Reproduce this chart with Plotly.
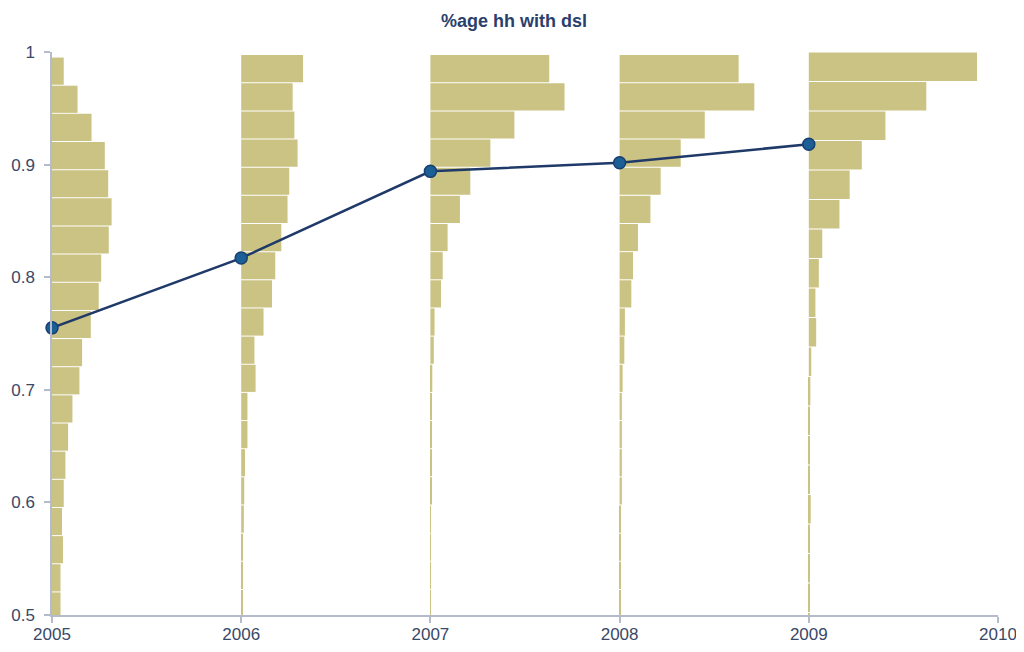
import plotly.graph_objects as go

# ---- data ----
years = [2005, 2006, 2007, 2008, 2009]
mean_share = [0.755, 0.817, 0.894, 0.9017, 0.918]

# histogram bins per year: upper edge of top bin and bin width
bin_top = [0.9955, 0.9977, 0.9977, 0.9977, 1.0]
bin_width = [0.025, 0.025, 0.025, 0.025, 0.0262]

# bar lengths (in x-axis units), from the top bin downward
hist_2005 = [0.062, 0.135, 0.209, 0.279, 0.297, 0.315, 0.300, 0.260, 0.247, 0.205,
             0.159, 0.145, 0.108, 0.085, 0.071, 0.062, 0.053, 0.058, 0.045, 0.045]
hist_2006 = [0.327, 0.272, 0.281, 0.298, 0.254, 0.245, 0.212, 0.180, 0.163, 0.118,
             0.070, 0.076, 0.033, 0.033, 0.020, 0.016, 0.014, 0.008, 0.008, 0.008]
hist_2007 = [0.628, 0.709, 0.444, 0.317, 0.211, 0.156, 0.091, 0.065, 0.056, 0.022,
             0.018, 0.010, 0.006, 0.006, 0.006, 0.006, 0.003, 0.003, 0.003, 0.003]
hist_2008 = [0.629, 0.712, 0.450, 0.323, 0.217, 0.163, 0.097, 0.071, 0.062, 0.028,
             0.025, 0.016, 0.012, 0.012, 0.012, 0.012, 0.004, 0.004, 0.004, 0.004]
hist_2009 = [0.889, 0.621, 0.405, 0.280, 0.216, 0.162, 0.071, 0.053, 0.035, 0.039,
             0.013, 0.008, 0.006, 0.006, 0.005, 0.010, 0.004, 0.004, 0.004, 0.004]
hists = [hist_2005, hist_2006, hist_2007, hist_2008, hist_2009]

x_ticks = [2005, 2006, 2007, 2008, 2009, 2010]
y_ticks = [0.5, 0.6, 0.7, 0.8, 0.9, 1.0]
y_tick_text = ["0.5", "0.6", "0.7", "0.8", "0.9", "1"]
title_text = "%age hh with dsl"

# ---- figure ----
BAR = "#cbc383"
AXIS = "#b4bccb"
TEXT = "#3a4868"

fig = go.Figure()
for yr, top, bw, h in zip(years, bin_top, bin_width, hists):
    centers = [top - bw * (i + 0.5) for i in range(len(h))]
    fig.add_trace(go.Bar(
        orientation="h", y=centers, x=h, base=yr,
        width=bw * 0.965, marker=dict(color=BAR, line=dict(width=0)),
        showlegend=False, hoverinfo="skip",
    ))

fig.add_trace(go.Scatter(
    x=years, y=mean_share, mode="lines+markers",
    line=dict(color="#1f3a68", width=2.5),
    marker=dict(size=12, color="#1b5f96", line=dict(color="#173f70", width=1.5)),
    cliponaxis=False, showlegend=False,
))

W, H = 1008, 636
fig.update_layout(
    width=W, height=H,
    margin=dict(l=44, r=18, t=44, b=29, autoexpand=False),
    paper_bgcolor="white", plot_bgcolor="white",
    barmode="overlay",
    font=dict(family="Liberation Sans, Arial, sans-serif", color=TEXT, size=17),
    title=dict(text="<b>" + title_text + "</b>", x=506 / W, xanchor="center",
               y=1 - 13 / H, yanchor="middle",
               font=dict(size=18, color="#2b3f6c")),
    xaxis=dict(range=[2005, 2010], tickvals=x_ticks, ticktext=[str(v) for v in x_ticks],
               showgrid=False, zeroline=False, showline=True, linecolor=AXIS, linewidth=1.5,
               ticks="outside", ticklen=6, tickcolor=AXIS, tickwidth=1.5,
               ticklabelstandoff=-3,
               automargin=False, ticklabeloverflow="allow",
               tickfont=dict(size=17, color=TEXT)),
    yaxis=dict(range=[0.5, 1.0], tickvals=y_ticks, ticktext=y_tick_text,
               showgrid=False, zeroline=False, showline=True, linecolor=AXIS, linewidth=1.5,
               ticks="outside", ticklen=6, tickcolor=AXIS, tickwidth=1.5,
               ticklabelstandoff=6, automargin=False, ticklabeloverflow="allow",
               tickfont=dict(size=17, color=TEXT)),
)

fig.write_html("out.html")
